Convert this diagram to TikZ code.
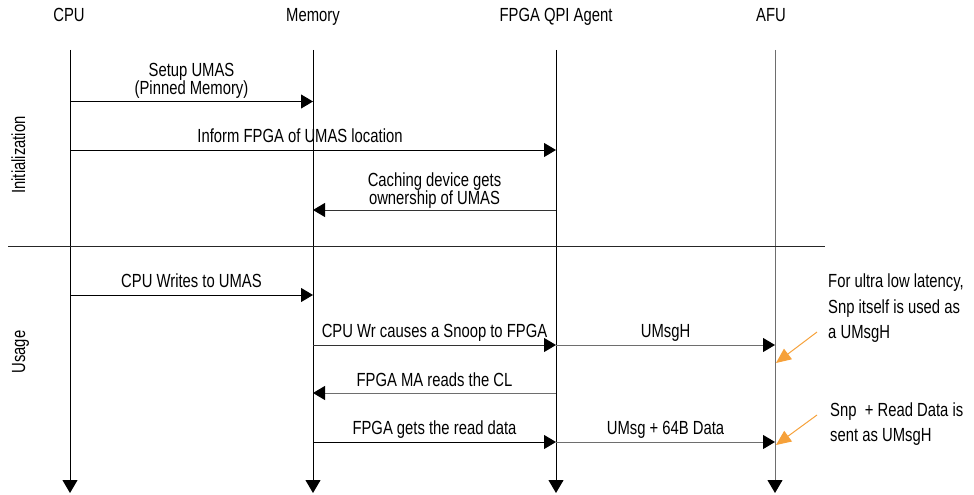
\documentclass[tikz,border=0pt]{standalone}
\usepackage{fontspec}
\setmainfont{Liberation Sans}[FakeStretch=0.78]
\usetikzlibrary{arrows.meta}
\definecolor{lgray}{HTML}{6E6E6E}
\definecolor{orng}{HTML}{F6A13A}
\begin{document}
\begin{tikzpicture}[x=1pt,y=-1pt,
  font=\fontsize{19}{20}\selectfont,
  lifeline/.style={line width=1pt,-{Triangle[length=13pt,width=15pt,color=black]}},
  msg/.style={line width=1pt,-{Triangle[length=12pt,width=14pt,color=black]}},
  lbl/.style={anchor=base,inner sep=0pt},
  hdr/.style={anchor=base,inner sep=0pt},
  note/.style={anchor=base west,inner sep=0pt},
  callout/.style={draw=orng,line width=1pt,-{Triangle[length=15pt,width=13pt,color=orng]}},
  side/.style={anchor=base,inner sep=0pt,rotate=90}]
\useasboundingbox (0,0) rectangle (974,495);

% headers
\node[hdr] (hcpu) at (69,22) {CPU};
\node[hdr] (hmem) at (313,22) {Memory};
\node[hdr] (hfpga) at (556,22) {FPGA QPI Agent};
\node[hdr] (hafu) at (771,22) {AFU};

% lifeline ends
\coordinate (cpuT) at (70,50);  \coordinate (cpuB) at (70,493);
\coordinate (memT) at (313,50); \coordinate (memB) at (313,493);
\coordinate (fpgT) at (556,50); \coordinate (fpgB) at (556,493);
\coordinate (afuT) at (775,50); \coordinate (afuB) at (775,493);
\draw[lifeline] (cpuT) -- (cpuB);
\draw[lifeline] (memT) -- (memB);
\draw[lifeline] (fpgT) -- (fpgB);
\draw[lifeline,draw=lgray] (afuT) -- (afuB);

% side labels and separator
\node[side] (sinit) at (25,155) {Initialization};
\node[side] (susage) at (25,352) {Usage};
\coordinate (sepL) at (8,246); \coordinate (sepR) at (825,246);
\draw[line width=1pt,draw=black!85] (sepL) -- (sepR);

% message end points
\coordinate (c1) at (70,101.5); \coordinate (m1) at (313,101.5);
\coordinate (c2) at (70,150);   \coordinate (f2) at (556,150);
\coordinate (f3) at (556,210);  \coordinate (m3) at (313,210);
\coordinate (c4) at (70,295);   \coordinate (m4) at (313,295);
\coordinate (m5) at (313,345);  \coordinate (f5) at (556,345); \coordinate (a5) at (775,345);
\coordinate (f6) at (556,393);  \coordinate (m6) at (313,393);
\coordinate (m7) at (313,442);  \coordinate (f7) at (556,442); \coordinate (a7) at (775,442);

% initialization messages
\draw[msg] (c1) -- (m1);
\node[lbl] (l1a) at (191.5,76) {Setup UMAS};
\node[lbl] (l1b) at (191.5,94) {(Pinned Memory)};
\draw[msg] (c2) -- (f2);
\node[lbl] (l2) at (300,142) {Inform FPGA of UMAS location};
\draw[msg,draw=black!80] (f3) -- (m3);
\node[lbl] (l3a) at (434.5,186) {Caching device gets};
\node[lbl] (l3b) at (434.5,204) {ownership of UMAS};

% usage messages
\draw[msg] (c4) -- (m4);
\node[lbl] (l4) at (191.5,287) {CPU Writes to UMAS};
\draw[msg,draw=black!80] (m5) -- (f5);
\node[lbl] (l5) at (434.5,337) {CPU Wr causes a Snoop to FPGA};
\draw[msg,draw=lgray] (f5) -- (a5);
\node[lbl] (l5b) at (665.5,337) {UMsgH};
\draw[msg,draw=lgray] (f6) -- (m6);
\node[lbl] (l6) at (434.5,386) {FPGA MA reads the CL};
\draw[msg] (m7) -- (f7);
\node[lbl] (l7) at (434.5,434) {FPGA gets the read data};
\draw[msg,draw=lgray] (f7) -- (a7);
\node[lbl] (l7b) at (665.5,434) {UMsg + 64B Data};

% annotations
\node[note] (n1a) at (828,287) {For ultra low latency,};
\node[note] (n1b) at (828,313) {Snp itself is used as};
\node[note] (n1c) at (828,338) {a UMsgH};
\node[note] (n2a) at (830,416) {Snp\ \ + Read Data is};
\node[note] (n2b) at (830,441) {sent as UMsgH};
\coordinate (o1s) at (817,332); \coordinate (o1e) at (776,363);
\coordinate (o2s) at (817,415); \coordinate (o2e) at (776,445);
\draw[callout] (o1s) -- (o1e);
\draw[callout] (o2s) -- (o2e);
\end{tikzpicture}
\end{document}
